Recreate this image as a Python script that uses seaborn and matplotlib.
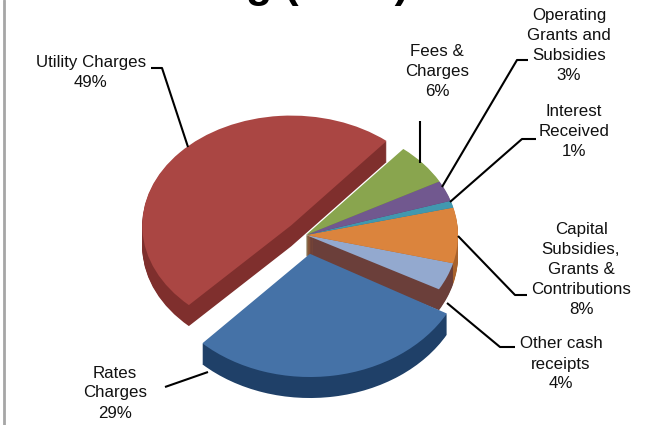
import matplotlib
matplotlib.use("Agg")
import matplotlib.pyplot as plt
from matplotlib.transforms import Affine2D
import seaborn as sns

categories = ["Other cash\nreceipts", "Capital\nSubsidies,\nGrants &\nContributions", "Interest\nReceived",
              "Operating\nGrants and\nSubsidies", "Fees &\nCharges", "Utility Charges", "Rates\nCharges"]
shares = [4, 8, 1, 3, 6, 49, 29]
explode = [0, 0, 0, 0, 0, 0.13, 0.17]
top_colors = ["#93a9cf", "#db843d", "#4198af", "#71588f", "#89a54e", "#aa4643", "#4572a7"]
side_colors = ["#6b3f3a", "#a8622c", "#2f7286", "#54406c", "#66793a", "#7f2f2d", "#1f4068"]

# label centre x, first line centre y, then the leader line points (all in picture pixels)
label_pos = [(561, 344), (581, 229), (574, 111), (569, 15), (437, 51), (91, 62), (115, 373)]
leaders = [
    [(447, 303), (500, 347), (515, 347)],
    [(458, 236), (515, 295), (527, 295)],
    [(450, 202), (522, 139), (536, 139)],
    [(442, 187), (517, 60), (528, 60)],
    [(420, 163), (420, 121)],
    [(188, 147), (162, 68), (151, 68)],
    [(208, 372), (165, 387)],
]

sns.set_theme(style="white")
plt.rcParams["font.family"] = ["Liberation Sans", "DejaVu Sans"]

fig = plt.figure(figsize=(6.52, 4.25), dpi=100)

# pie axes: one data unit is 152 px wide and 112 px high, so the pie comes out as a tilted ellipse
ax = fig.add_axes([0, 0, 1, 1])
depth = 21
for d in range(depth, -1, -1):
    if d == 0:
        colors = sns.color_palette(top_colors)
    else:
        colors = sns.color_palette(side_colors)
    wedges, _ = ax.pie(shares, explode=explode, colors=colors, startangle=-29,
                       center=(0, -d / 112), radius=1, counterclock=True,
                       wedgeprops={"linewidth": 0})
    wedges[5].set_radius(0.98)
    # front slice is closer to the viewer, so it reads larger, mostly in height
    cx, cy = wedges[6].center
    wedges[6].set_transform(Affine2D().translate(-cx, -cy).scale(1.03, 1.1).translate(cx, cy) + ax.transData)
ax.set_aspect("auto")
ax.set_xlim(-306 / 152, (652 - 306) / 152)
ax.set_ylim((235 - 425) / 112, 235 / 112)
ax.axis("off")

# overlay in picture pixels for the text and leader lines
over = fig.add_axes([0, 0, 1, 1])
over.set_xlim(0, 652)
over.set_ylim(425, 0)
over.axis("off")
over.patch.set_alpha(0)

line_height = 20
for name, share, (x, y), pts in zip(categories, shares, label_pos, leaders):
    lines = name.split("\n") + [f"{share}%"]
    for i, line in enumerate(lines):
        over.text(x, y + i * line_height, line, ha="center", va="center", fontsize=12.2, color="#111111")
    over.plot([p[0] for p in pts], [p[1] for p in pts], color="black", lw=1.5, solid_capstyle="butt")

# title is cut off by the top of the picture, only the descenders show
over.text(327, -3, "g (        )", ha="center", va="baseline", fontsize=31, fontweight="bold",
          color="black", clip_on=True)

# chart frame on the left
over.plot([4, 4], [0, 425], color="#a6a6a6", lw=2)

fig.savefig("out.png", dpi=100)
